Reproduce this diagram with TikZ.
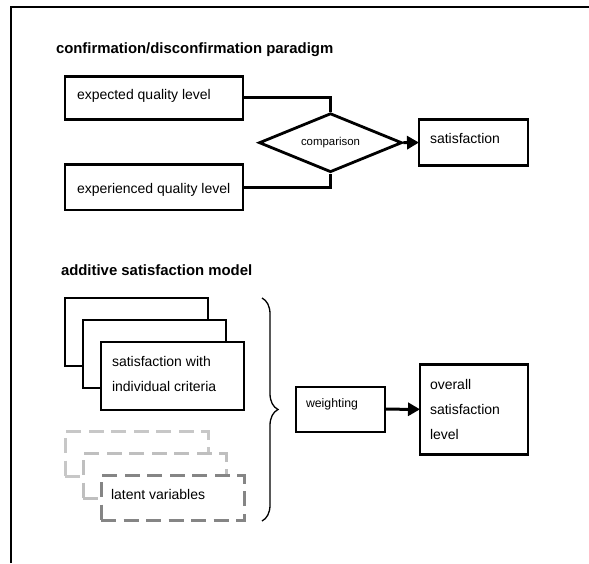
\documentclass[tikz,border=0pt]{standalone}
\usepackage{fontspec}
\setmainfont{Liberation Sans}
\usetikzlibrary{shapes.geometric,arrows.meta,decorations.pathreplacing}
\begin{document}
\begin{tikzpicture}[x=1pt,y=-1pt,
  box/.style={draw, line width=2.8pt, fill=white, inner sep=0pt, outer sep=0pt},
  dbox/.style={draw, line width=3pt, fill=white, inner sep=0pt, outer sep=0pt, dash pattern=on 15pt off 7.5pt},
  txt/.style={anchor=base west, inner sep=0pt, outer sep=0pt, font=\fontsize{14}{16}\selectfont},
  ttl/.style={anchor=base west, inner sep=0pt, outer sep=0pt},
  conn/.style={line width=3pt},
  arr/.style={line width=3pt, -{Triangle[length=12pt,width=13pt]}}
]
\useasboundingbox (0,0) rectangle (589,563);
% frame
\coordinate (fb) at (11,563);
\coordinate (fc) at (11,7);
\coordinate (fr) at (589,7);
\draw[line width=1.7pt] (fb) -- (fc) -- (fr);

% titles
\node[ttl, font=\bfseries\fontsize{14.9}{17}\selectfont] (t1) at (56,53.3) {confirmation/disconfirmation paradigm};
\node[ttl, font=\bfseries\fontsize{14.9}{17}\selectfont] (t2) at (61,275) {additive satisfaction model};

% upper part
\node[box, minimum width=178pt, minimum height=43pt] (exp) at (154,97.7) {};
\node[txt] (expt) at (77,99) {expected quality level};
\node[box, minimum width=178pt, minimum height=45.7pt] (expd) at (154,187.2) {};
\node[txt] (expdt) at (77,193) {experienced quality level};
\node[diamond, draw, line width=2.8pt, minimum width=143pt, minimum height=59pt, aspect=2.42, inner sep=0pt, font=\fontsize{11.4}{13}\selectfont] (cmp) at (330.5,142.7) {comparison};
\node[box, line width=2.5pt, minimum width=109pt, minimum height=46.4pt] (sat) at (473.5,142.5) {};
\node[txt] (satt) at (430,143) {satisfaction};

\draw[conn] (exp.east) -| (cmp.north);
\draw[conn] (expd.east) -| (cmp.south);
\draw[arr] (cmp.east) -- (sat.west);

% lower part: criteria stack
\node[box, minimum width=143pt, minimum height=68pt] (c1) at (136.5,332) {};
\node[box, minimum width=143pt, minimum height=68pt] (c2) at (154.5,354) {};
\node[box, minimum width=143pt, minimum height=68pt] (c3) at (172.5,376) {};
\node[txt] (c3a) at (112,366) {satisfaction with};
\node[txt] (c3b) at (112,391) {individual criteria};

% latent stack
\node[dbox, draw=black!22, minimum width=143pt, minimum height=45pt] (d1) at (136.5,454) {};
\node[dbox, draw=black!25, minimum width=143pt, minimum height=45pt] (d2) at (154.5,476) {};
\node[dbox, draw=black!48, minimum width=143pt, minimum height=45pt] (d3) at (172.5,498) {};
\node[txt] (d3t) at (111,499.3) {latent variables};

% brace
\coordinate (bt) at (262,298);
\coordinate (bb) at (262,521);
\draw[line width=1.3pt, decorate, decoration={brace, amplitude=16pt}] (bt) -- (bb);

% weighting and overall
\node[box, line width=2pt, minimum width=89pt, minimum height=45pt] (wgt) at (340.5,409.2) {};
\node[txt, font=\fontsize{12.3}{14}\selectfont] (wgtt) at (306,407.5) {weighting};
\node[box, minimum width=108pt, minimum height=90pt] (ovr) at (474,409.3) {};
\node[txt] (ovr1) at (430,389) {overall};
\node[txt] (ovr2) at (430,414) {satisfaction};
\node[txt] (ovr3) at (430,439) {level};
\draw[arr] (wgt.east) -- (ovr.west);
\end{tikzpicture}
\end{document}
